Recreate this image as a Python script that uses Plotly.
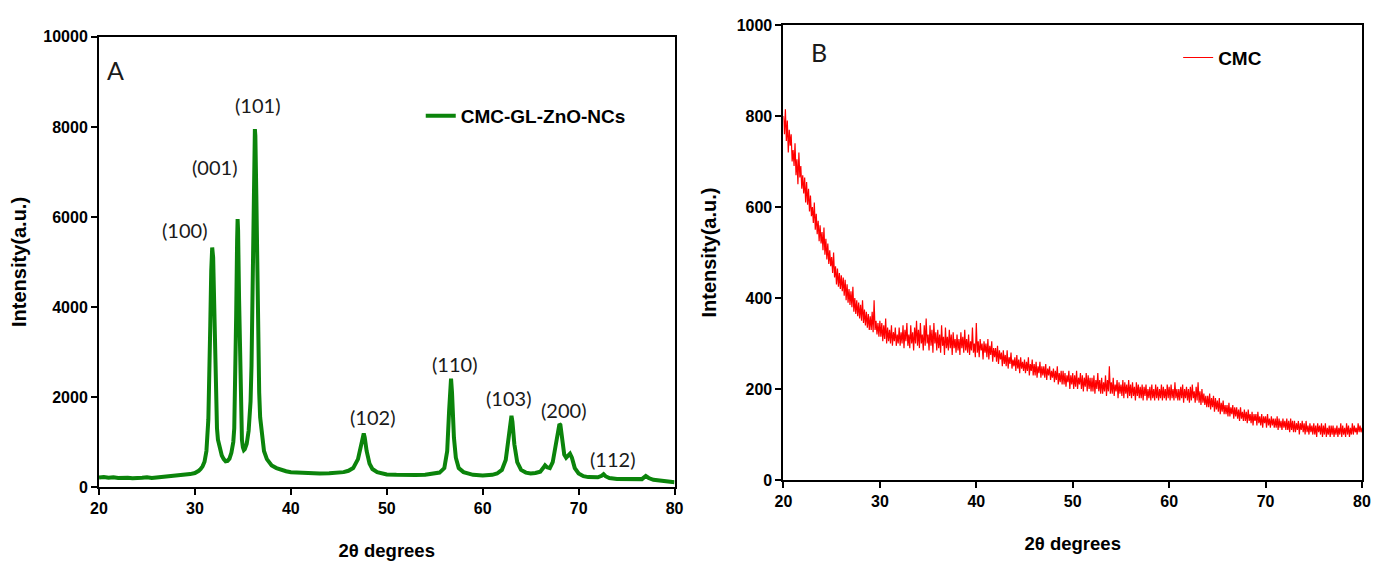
import numpy as np
import plotly.graph_objects as go
from plotly.subplots import make_subplots

# ---- Panel A: CMC-GL-ZnO-NCs XRD pattern (2theta, intensity) ----
xrd_a_x = [20, 20.5, 21, 21.5, 22, 22.5, 23, 23.5, 24, 24.5, 25, 25.5, 26, 26.5, 27, 27.5, 28, 28.5, 29, 29.5, 30,
           30.2, 30.4, 30.6, 30.8, 31.0, 31.2, 31.4, 31.5, 31.6, 31.7, 31.8, 31.9, 32.0, 32.1, 32.2, 32.3, 32.4,
           32.6, 32.8, 33.0, 33.2, 33.4, 33.6, 33.8, 34.0, 34.1, 34.2, 34.3, 34.4, 34.45, 34.5, 34.6, 34.7, 34.8,
           34.9, 35.0, 35.1, 35.2, 35.4, 35.6, 35.8, 35.9, 36.0, 36.1, 36.2, 36.25, 36.3, 36.4, 36.5, 36.6, 36.7,
           36.8, 37.0, 37.2, 37.5, 38, 38.5, 39, 39.5, 40, 41, 42, 43, 44, 45, 45.5, 46, 46.5, 47, 47.3, 47.5,
           47.6, 47.7, 47.9, 48.2, 48.5, 49, 49.5, 50, 51, 52, 53, 54, 55, 55.5, 56, 56.3, 56.5, 56.6, 56.7, 56.8,
           57.0, 57.2, 57.5, 58, 58.5, 59, 60, 61, 61.5, 62, 62.4, 62.7, 62.9, 63.0, 63.1, 63.3, 63.6, 64, 64.5,
           65, 65.5, 66, 66.3, 66.5, 66.7, 67, 67.3, 67.6, 67.9, 68.0, 68.1, 68.3, 68.5, 68.7, 68.9, 69.1, 69.3,
           69.6, 70, 70.5, 71, 71.5, 72, 72.4, 72.6, 72.8, 73.2, 74, 75, 76, 76.6, 77.0, 77.3, 77.8, 78.5, 79,
           79.5, 80]
xrd_a_y = [210, 222, 204, 216, 200, 213, 207, 197, 211, 204, 216, 199, 212, 221, 225, 232, 240, 252, 265, 287, 310,
           330, 360, 400, 460, 560, 800, 1500, 2300, 3600, 4800, 5320, 5100, 4000, 2700, 1800, 1300, 1050,
           820, 700, 620, 570, 580, 630, 760, 1000, 1300, 2200, 3800, 5500, 5950, 5700, 4200, 2600, 1500,
           1050, 880, 820, 840, 960, 1250, 1900, 2700, 4000, 6000, 7600, 7950, 7800, 6500, 4500, 3000, 2100,
           1550, 1050, 800, 620, 480, 420, 380, 350, 330, 318, 305, 300, 305, 310, 330, 360, 420, 620, 900, 1150,
           1190, 1100, 800, 520, 400, 330, 300, 280, 270, 262, 265, 272, 290, 320, 420, 800, 1700, 2250, 2410, 2100,
           1100, 650, 420, 330, 290, 270, 255, 270, 300, 380, 600, 1100, 1500, 1580, 1450, 950, 550, 380, 320,
           300, 310, 340, 420, 480, 440, 420, 550, 900, 1300, 1400, 1380, 1000, 720, 650, 700, 740, 650,
           420, 300, 240, 220, 210, 215, 250, 285, 240, 200, 180, 170, 160, 175, 245, 200, 160, 140, 130,
           115, 105]

# ---- Panel B: CMC XRD pattern, scan grid 20-80 deg, step 0.1 ----
xrd_b_x = np.round(np.arange(20.0, 80.0001, 0.1), 1)
xrd_b_y = [
    800, 760, 815, 745, 790, 720, 770, 735, 760, 700,
    725, 690, 740, 670, 705, 650, 720, 665, 690, 640,
    670, 630, 665, 610, 655, 605, 640, 590, 625, 580,
    600, 565, 610, 550, 585, 540, 570, 525, 560, 520,
    545, 505, 555, 495, 530, 485, 520, 475, 505, 470,
    490, 455, 500, 445, 470, 430, 465, 425, 455, 420,
    450, 415, 445, 405, 440, 395, 430, 390, 420, 385,
    415, 380, 425, 370, 400, 365, 395, 360, 390, 355,
    385, 350, 395, 345, 375, 340, 370, 335, 365, 330,
    360, 330, 370, 325, 395, 330, 350, 320, 345, 315,
    350, 315, 345, 305, 340, 310, 355, 300, 335, 305,
    330, 300, 340, 295, 325, 305, 335, 295, 320, 300,
    335, 295, 325, 300, 340, 290, 330, 305, 345, 295,
    320, 290, 340, 300, 325, 285, 335, 300, 350, 295,
    330, 290, 345, 300, 320, 285, 340, 295, 355, 300,
    320, 285, 340, 295, 330, 280, 345, 300, 325, 285,
    330, 290, 320, 280, 340, 295, 315, 275, 335, 290,
    315, 285, 330, 290, 320, 275, 325, 290, 310, 280,
    320, 285, 310, 275, 325, 290, 315, 280, 330, 285,
    310, 280, 320, 275, 305, 285, 335, 280, 300, 270,
    345, 280, 305, 270, 310, 285, 300, 265, 305, 280,
    300, 270, 310, 265, 295, 275, 305, 260, 290, 270,
    290, 260, 295, 255, 285, 265, 280, 250, 285, 255,
    275, 250, 285, 245, 270, 255, 280, 245, 265, 250,
    270, 240, 275, 245, 265, 235, 270, 245, 260, 240,
    265, 235, 260, 240, 270, 230, 255, 240, 265, 230,
    255, 230, 260, 225, 250, 235, 260, 225, 250, 230,
    250, 225, 255, 220, 245, 230, 250, 220, 240, 225,
    245, 215, 240, 220, 250, 210, 235, 215, 240, 210,
    240, 210, 235, 205, 230, 215, 240, 200, 230, 210,
    235, 200, 230, 205, 240, 200, 225, 210, 235, 200,
    230, 195, 225, 205, 235, 195, 230, 200, 225, 195,
    225, 195, 230, 190, 220, 200, 235, 195, 220, 190,
    225, 190, 215, 195, 230, 185, 220, 195, 250, 190,
    215, 190, 225, 185, 210, 195, 220, 180, 215, 190,
    210, 185, 220, 180, 215, 190, 210, 180, 220, 185,
    210, 180, 215, 185, 205, 175, 215, 185, 210, 180,
    205, 180, 210, 175, 205, 185, 210, 175, 200, 180,
    205, 175, 210, 180, 200, 175, 210, 180, 205, 175,
    200, 180, 210, 175, 205, 180, 200, 175, 210, 180,
    205, 175, 210, 180, 200, 175, 215, 180, 200, 175,
    200, 175, 205, 180, 210, 170, 200, 180, 205, 175,
    200, 170, 205, 175, 210, 180, 195, 170, 205, 175,
    215, 170, 195, 165, 200, 170, 190, 165, 185, 160,
    185, 160, 190, 155, 180, 160, 185, 150, 180, 155,
    175, 150, 180, 145, 170, 150, 175, 145, 165, 145,
    165, 140, 170, 140, 160, 145, 165, 135, 160, 140,
    160, 135, 155, 130, 160, 135, 150, 130, 155, 130,
    150, 125, 155, 130, 145, 125, 150, 120, 145, 130,
    145, 120, 150, 125, 140, 120, 145, 115, 140, 125,
    140, 115, 145, 120, 135, 115, 140, 120, 135, 115,
    135, 115, 140, 110, 135, 115, 130, 110, 135, 115,
    130, 110, 135, 110, 130, 105, 135, 110, 130, 105,
    130, 105, 125, 110, 130, 100, 125, 110, 130, 105,
    125, 100, 130, 105, 120, 100, 125, 105, 120, 100,
    125, 100, 120, 95, 125, 105, 120, 100, 125, 95,
    120, 100, 125, 95, 115, 100, 120, 95, 120, 100,
    120, 95, 115, 100, 120, 95, 115, 100, 125, 95,
    120, 100, 115, 95, 125, 100, 120, 95, 115, 100,
    125, 100, 120, 105, 115, 100, 125, 105, 120, 105,
    115]

peak_labels = ["(100)", "(001)", "(101)", "(102)", "(110)", "(103)", "(200)", "(112)"]
peak_label_x = [28.96, 32.08, 36.56, 48.5, 57.08, 62.7, 68.4, 73.5]
peak_label_y = [5703, 7099, 8484, 1560, 2725, 1967, 1714, 615]

a_ticks = [0, 2000, 4000, 6000, 8000, 10000]
a_ticktext = ["0", "2000", "4000", "6000", "8000", "10000"]
b_ticks = [0, 200, 400, 600, 800, 1000]
x_ticks = [20, 30, 40, 50, 60, 70, 80]

W, H = 1375, 563
S = 0.9937  # page-to-screenshot scale observed


def f(p):
    return p / S


ML = f(98)
MR = W - f(1362)
MT = f(25)
MB = H - f(492)
PW, PH = W - ML - MR, H - MT - MB


def px_x(p):
    return (f(p) - ML) / PW


def px_y(p):
    return (H - MB - f(p)) / PH


fig = make_subplots(rows=1, cols=2)

fig.add_trace(go.Scatter(x=xrd_a_x, y=xrd_a_y, mode="lines", name="CMC-GL-ZnO-NCs", showlegend=True,
                         line=dict(color="#0b840b", width=4), legend="legend"), row=1, col=1)
fig.add_trace(go.Scatter(x=xrd_b_x, y=xrd_b_y, mode="lines", name="CMC", showlegend=True,
                         line=dict(color="#ff0000", width=1.2), legend="legend2"), row=1, col=2)

tickfont = dict(family="Liberation Sans, Arial, sans-serif", size=16, color="black", weight="bold")
xtitlefont = dict(family="Liberation Sans, Arial, sans-serif", size=18.5, color="black", weight="bold")
ytitlefont = dict(family="Liberation Sans, Arial, sans-serif", size=20, color="black", weight="bold")

axis_common = dict(showline=True, linecolor="black", linewidth=2, mirror=True,
                   ticks="outside", ticklen=6, tickwidth=1.5, tickcolor="black",
                   showgrid=False, zeroline=False, tickfont=tickfont)

legend_font = dict(family="Liberation Sans, Arial, sans-serif", size=19, color="black", weight="bold")

fig.update_layout(
    width=W, height=H,
    showlegend=True,
    margin=dict(l=ML, r=MR, t=MT, b=MB),
    paper_bgcolor="white", plot_bgcolor="white",
    xaxis=dict(domain=[0, px_x(674)], range=[20, 80], tickvals=x_ticks,
               title=dict(text="2θ degrees", font=xtitlefont, standoff=28), **axis_common),
    yaxis=dict(domain=[0, px_y(37)], range=[0, 10000], tickvals=a_ticks, ticktext=a_ticktext,
               title=dict(text="Intensity(a.u.)", font=ytitlefont, standoff=11), **axis_common),
    xaxis2=dict(domain=[px_x(783), 1], range=[20, 80], tickvals=x_ticks,
                title=dict(text="2θ degrees", font=xtitlefont, standoff=28), **axis_common),
    yaxis2=dict(domain=[px_y(485), 1], range=[0, 1000], tickvals=b_ticks,
                title=dict(text="Intensity(a.u.)", font=ytitlefont, standoff=15), **axis_common),
    legend=dict(x=px_x(420), y=px_y(117), xanchor="left", yanchor="middle",
                bgcolor="rgba(0,0,0,0)", font=legend_font),
    legend2=dict(x=px_x(1178), y=px_y(58), xanchor="left", yanchor="middle",
                 bgcolor="rgba(0,0,0,0)", font=legend_font),
)

label_font = dict(family="Lato, Open Sans, sans-serif", size=20, color="#1a1a1a")
for t, lx, ly in zip(peak_labels, peak_label_x, peak_label_y):
    fig.add_annotation(x=lx, y=ly, xref="x", yref="y", text=t, showarrow=False, font=label_font)

fig.add_annotation(x=21.77, y=9253, xref="x", yref="y", text="A", showarrow=False,
                   font=dict(family="Lato, Open Sans, sans-serif", size=25, color="#1a1a1a"))
fig.add_annotation(x=23.73, y=940, xref="x2", yref="y2", text="B", showarrow=False,
                   font=dict(family="Lato, Open Sans, sans-serif", size=25, color="#1a1a1a"))

fig.write_html("out.html")
